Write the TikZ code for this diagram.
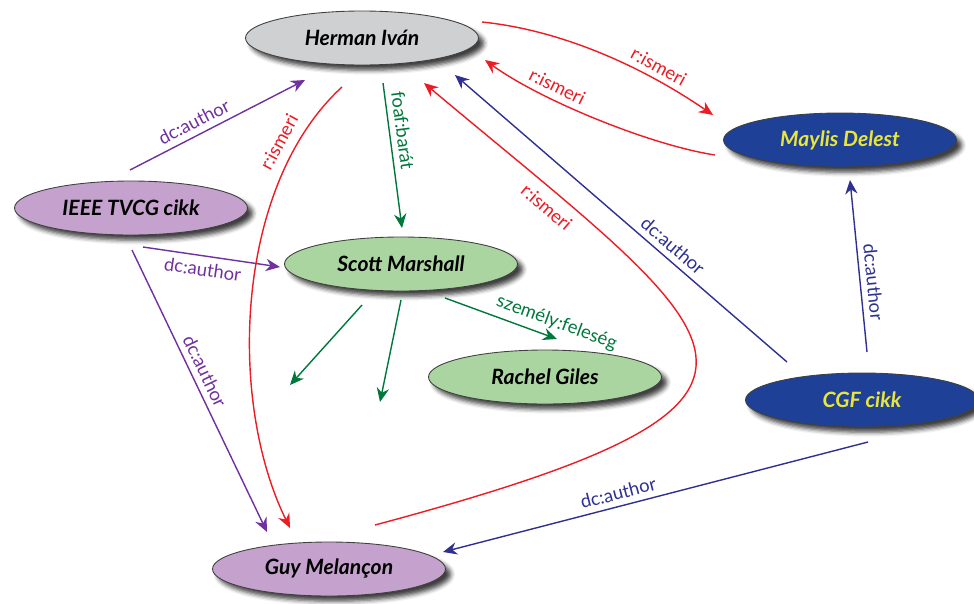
\documentclass[tikz,border=0pt]{standalone}
\usepackage{fontspec}
\setmainfont{Lato}
\usetikzlibrary{shapes.geometric,arrows.meta,calc,shadows.blur}

\definecolor{nodegray}{RGB}{206,208,210}
\definecolor{nodelilac}{RGB}{197,161,205}
\definecolor{nodegreen}{RGB}{170,213,160}
\definecolor{nodenavy}{RGB}{30,64,150}
\definecolor{nodeyellow}{RGB}{232,230,60}
\definecolor{relred}{RGB}{237,28,36}
\definecolor{relpurple}{RGB}{112,48,160}
\definecolor{relgreen}{RGB}{0,120,60}
\definecolor{relblue}{RGB}{46,49,146}

\begin{document}
\begin{tikzpicture}
    \tikzstyle{res}=[ellipse,draw=black!75,line width=0.5pt,minimum
    width=4.66cm,minimum height=1.08cm,inner sep=0pt,
    font=\fontsize{12}{14}\selectfont\bfseries\itshape,
    blur shadow={shadow xshift=3pt,shadow yshift=-3pt,shadow blur
    radius=2.5pt,shadow opacity=75}];
    \tikzstyle{grayres}=[res,fill=nodegray];
    \tikzstyle{lilacres}=[res,fill=nodelilac];
    \tikzstyle{greenres}=[res,fill=nodegreen];
    \tikzstyle{navyres}=[res,fill=nodenavy,text=nodeyellow];
    \tikzstyle{rel}=[line width=0.8pt,-{Stealth[length=8pt,width=7pt]}];
    \tikzstyle{ismeri}=[rel,color=relred];
    \tikzstyle{dcpurple}=[rel,color=relpurple];
    \tikzstyle{dcblue}=[rel,color=relblue];
    \tikzstyle{foaf}=[rel,color=relgreen];
    \tikzstyle{lab}=[font=\fontsize{10.5}{12}\selectfont,sloped];

    \useasboundingbox (0,0) rectangle (19.48,-12.06);

    \node (hi) [grayres] at (7.24,-0.76) {Herman Iván};
    \node (md) [navyres] at (16.8,-2.8) {Maylis Delest};
    \node (ieee) [lilacres] at (2.62,-4.16) {IEEE TVCG cikk};
    \node (sm) [greenres] at (8.02,-5.28) {Scott Marshall};
    \node (rg) [greenres] at (10.9,-7.54) {Rachel Giles};
    \node (cgf) [navyres] at (17.24,-8.0) {CGF cikk};
    \node (gm) [lilacres] at (6.58,-11.38) {Guy Melançon};
    \coordinate (e1) at (5.8,-7.7);
    \coordinate (e2) at (7.6,-8.04);

    % dc:author, IEEE
    \draw[dcpurple] ($(ieee)+(-0.02,0.76)$) -- node[lab,above,pos=0.4]
    {dc:author} ($(hi)+(-1.14,-0.84)$);
    \draw[dcpurple] ($(ieee)+(0.24,-0.78)$) -- node[lab,below,pos=0.45]
    {dc:author} ($(sm)+(-2.42,-0.06)$);
    \draw[dcpurple] ($(ieee)+(0.02,-0.84)$) -- node[lab,above,pos=0.45]
    {dc:author} ($(gm)+(-1.24,0.74)$);

    % dc:author, CGF
    \draw[dcblue] ($(cgf)+(-1.5,0.76)$) -- node[lab,above,pos=0.37]
    {dc:author} ($(hi)+(1.86,-0.74)$);
    \draw[dcblue] ($(cgf)+(0.1,0.96)$) -- node[lab,above,pos=0.4]
    {dc:author} ($(md)+(0.2,-0.8)$);
    \draw[dcblue] ($(cgf)+(0.12,-0.84)$) -- node[lab,above,pos=0.58]
    {dc:author} ($(gm)+(2.28,0.34)$);

    % r:ismeri
    \draw[ismeri] ($(hi)+(-0.4,-0.98)$) .. controls +(-2.14,-1.96) and
    +(-1.26,2.56) .. node[lab,above=2pt,pos=0.18] {r:ismeri}
    ($(gm)+(-0.78,0.82)$);
    \draw[ismeri] ($(hi)+(2.4,0.32)$) .. controls +(1.56,-0.16) and
    +(-1.46,1.0) .. node[lab,above,pos=0.73] {r:ismeri}
    ($(md)+(-2.54,0.5)$);
    \draw[ismeri] ($(md)+(-2.5,-0.3)$) .. controls +(-1.3,0.2) and
    +(1.1,-0.8) .. node[lab,above,pos=0.68] {r:ismeri}
    ($(hi)+(2.46,-0.44)$);
    \draw[ismeri] ($(gm)+(0.92,0.88)$) .. controls +(9.48,2.54) and
    +(6.28,-5.26) .. node[lab,below=2pt,pos=0.84] {r:ismeri}
    ($(hi)+(1.24,-0.9)$);

    % foaf, szemely
    \draw[foaf] ($(hi)+(0.42,-0.9)$) -- node[lab,above,pos=0.34]
    {foaf:barát} ($(sm)+(0.02,0.72)$);
    \draw[foaf] ($(sm)+(0.88,-0.68)$) -- node[lab,above,pos=0.95]
    {személy:feleség} ($(rg)+(0.24,0.76)$);
    \draw[foaf] ($(sm)+(-0.78,-0.82)$) -- (e1);
    \draw[foaf] ($(sm)+(0,-0.72)$) -- (e2);
\end{tikzpicture}
\end{document}
